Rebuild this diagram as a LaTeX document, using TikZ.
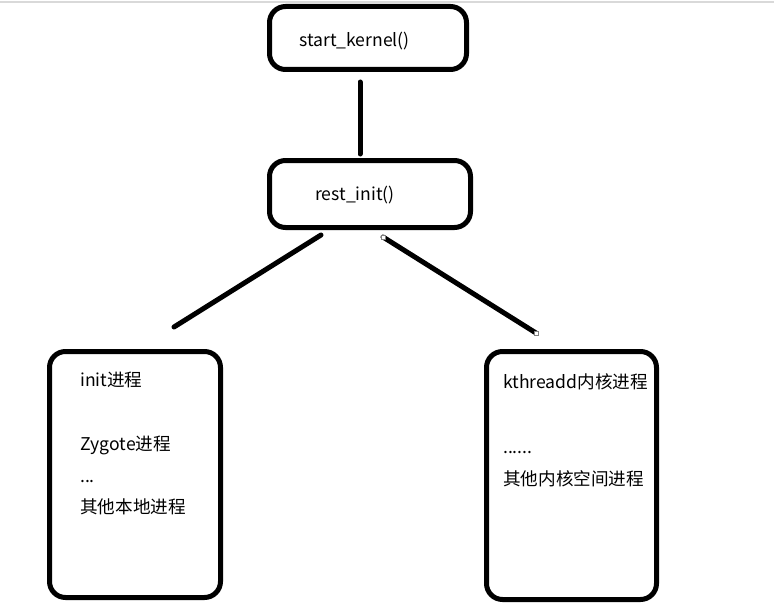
\documentclass[tikz,border=0pt]{standalone}
\usepackage{fontspec}
\setmainfont{Noto Sans CJK SC}
\begin{document}
\begin{tikzpicture}[x=1pt,y=-1pt,
  proc/.style={draw=black,line width=5pt,rounded corners=16pt,inner sep=0pt},
  lbl/.style={anchor=base west,inner sep=0pt,font=\fontsize{17.6}{19}\selectfont},
  link/.style={line width=5pt,line cap=round},
  handle/.style={draw=gray,fill=white,line width=0.8pt,minimum size=4pt,inner sep=0pt}]
\useasboundingbox (0,0) rectangle (774,610);
% thin rule along the top
\draw[line width=1.2pt,color=black!15] (0,2) -- (774,2);

% boxes
\node[proc,minimum width=197pt,minimum height=63pt] (kernel) at (368,38) {};
\node[proc,minimum width=201pt,minimum height=67pt] (rest) at (370,194) {};
\node[proc,minimum width=171pt,minimum height=246pt] (user) at (135,474.5) {};
\node[proc,minimum width=170pt,minimum height=248pt] (kthr) at (571.5,475.5) {};

% labels
\node[lbl] (tk) at (299,47) {start\_kernel()};
\node[lbl] (tr) at (315,200) {rest\_init()};
\node[lbl] (u1) at (80,386) {init进程};
\node[lbl] (u2) at (80,450) {Zygote进程};
\node[lbl] (u3) at (80,482) {...};
\node[lbl] (u4) at (80,513) {其他本地进程};
\node[lbl] (k1) at (503,388) {kthreadd内核进程};
\node[lbl] (k2) at (503,453) {......};
\node[lbl] (k3) at (503,485) {其他内核空间进程};

% connector end points
\coordinate (a1) at (360,82);
\coordinate (a2) at (360,154);
\coordinate (b1) at (321,235);
\coordinate (b2) at (174,327);
\coordinate (c1) at (383,237);
\coordinate (c2) at (536,333);

\draw[link] (a1) -- (a2);
\draw[link] (b1) -- (b2);
\draw[link] (c1) -- (c2);

% selection handles at the ends of the right connector
\node[handle] (h1) at (c1) {};
\node[handle] (h2) at (c2) {};
\end{tikzpicture}
\end{document}
